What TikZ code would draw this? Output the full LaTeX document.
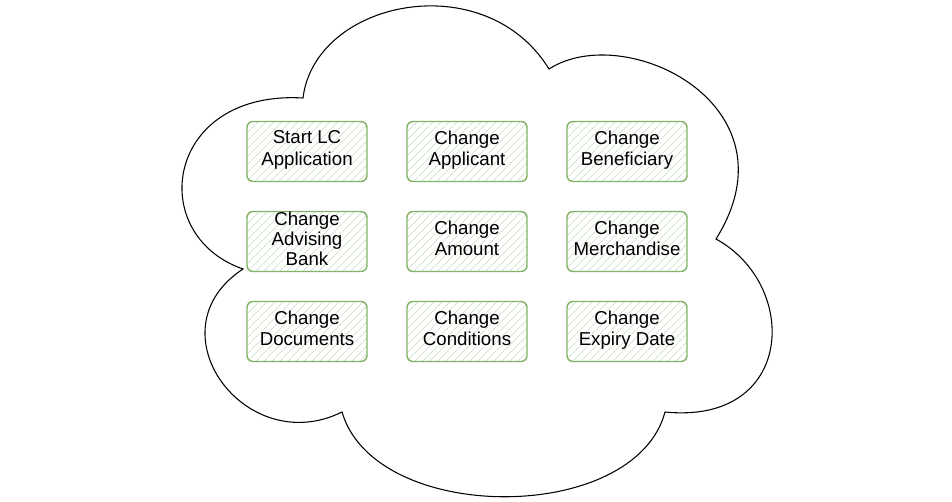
\documentclass[tikz,border=0pt]{standalone}
\usepackage{fontspec}
\setmainfont{Liberation Sans}
\usetikzlibrary{patterns.meta}
\definecolor{boxgreen}{HTML}{82B366}
\definecolor{hatchgreen}{HTML}{CADFC6}
\begin{document}
\begin{tikzpicture}[x=0.75pt,y=-0.75pt,
  task/.style={draw=boxgreen, line width=1.1pt, rounded corners=4.5pt,
    minimum width=90pt, minimum height=45pt, inner sep=0pt, align=center,
    font=\fontsize{14}{16.3}\selectfont,
    execute at begin node=\strut, execute at end node=\strut,
    pattern={Lines[angle=45,distance=4pt,line width=0.6pt]},
    pattern color=hatchgreen},
  cloudline/.style={draw=black, line width=0.8pt}]
\useasboundingbox (0,0) rectangle (952,502);
\draw[cloudline] (303,98) .. controls (315,0) and (485,-35) .. (549,69)
  .. controls (625,20) and (800,105) .. (716,239)
  .. controls (800,285) and (795,425) .. (665,412)
  .. controls (635,525) and (375,525) .. (342,412)
  .. controls (245,460) and (150,330) .. (243,269)
  .. controls (145,235) and (165,90) .. (303,98) -- cycle;
\node[task] (start) at (307,151.5) {Start LC\\Application};
\node[task] (applicant) at (467,151.5) {Change\\Applicant};
\node[task] (beneficiary) at (627,151.5) {Change\\Beneficiary};
\node[task, font=\fontsize{14}{15}\selectfont] (advising) at (307,241.5) {Change\\Advising\\Bank};
\node[task] (amount) at (467,241.5) {Change\\Amount};
\node[task] (merch) at (627,241.5) {Change\\Merchandise};
\node[task] (documents) at (307,331.5) {Change\\Documents};
\node[task] (conditions) at (467,331.5) {Change\\Conditions};
\node[task] (expiry) at (627,331.5) {Change\\Expiry Date};
\end{tikzpicture}
\end{document}
